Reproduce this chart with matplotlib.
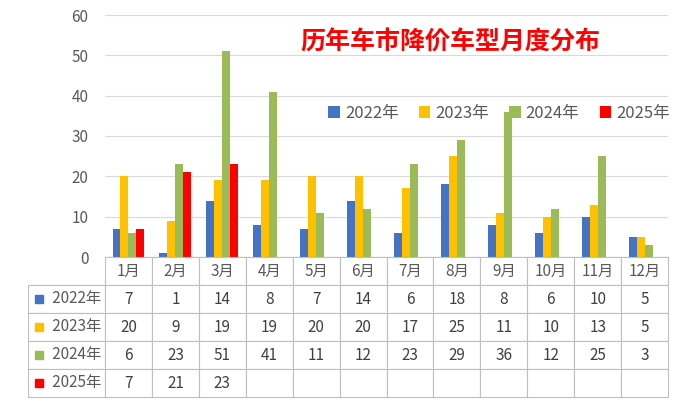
import matplotlib.pyplot as plt
import matplotlib.patches as mpatches
from matplotlib import font_manager
import numpy as np

cjk = [f.name for f in font_manager.fontManager.ttflist if 'CJK' in f.name]
pref = [n for n in ['Noto Sans CJK SC', 'Noto Sans CJK JP', 'Noto Sans CJK TC', 'Noto Sans CJK KR'] if n in cjk]
plt.rcParams['font.family'] = (pref[:1] or cjk[:1]) + ['DejaVu Sans']

# ===== data =====
months = ['1月', '2月', '3月', '4月', '5月', '6月', '7月', '8月', '9月', '10月', '11月', '12月']
series_names = ['2022年', '2023年', '2024年', '2025年']
v2022 = [7, 1, 14, 8, 7, 14, 6, 18, 8, 6, 10, 5]
v2023 = [20, 9, 19, 19, 20, 20, 17, 25, 11, 10, 13, 5]
v2024 = [6, 23, 51, 41, 11, 12, 23, 29, 36, 12, 25, 3]
v2025 = [7, 21, 23]
colors = ['#4472C4', '#FFC000', '#9BBB59', '#FF0000']
# ================

W, H = 685, 409
fig = plt.figure(figsize=(W / 100, H / 100), dpi=100)

ax = fig.add_axes([105 / W, 1 - 257 / H, (668 - 105) / W, (257 - 15) / H])
data = [v2022, v2023, v2024, v2025]
x = np.arange(len(months))
bw = 0.17
for i, (vals, c) in enumerate(zip(data, colors)):
    xs = x[:len(vals)] + (i - 1.5) * bw
    ax.bar(xs, vals, width=bw, color=c, label=series_names[i], zorder=3)

ax.set_xlim(-0.5, len(months) - 0.5)
ax.set_ylim(0, 60)
ax.set_yticks(range(0, 61, 10))
ax.set_xticks([])
ax.grid(axis='y', color='#D9D9D9', linewidth=0.8, zorder=0)
for s in ['top', 'right', 'left']:
    ax.spines[s].set_visible(False)
ax.spines['bottom'].set_color('#BFBFBF')
ax.tick_params(axis='y', length=0, labelsize=11, labelcolor='#595959', pad=12)

ax.legend(loc='upper left', bbox_to_anchor=(0.37, 0.69), ncol=4, frameon=False,
          fontsize=12, handlelength=0.7, handleheight=0.7, columnspacing=1.2,
          handletextpad=0.3, labelcolor='#595959')

fig.text(450 / W, 1 - 42 / H, '历年车市降价车型月度分布', color='#FF0000',
         fontsize=18, fontweight='bold', ha='center', va='center')

# data table
tax = fig.add_axes([28 / W, 1 - 397 / H, (668 - 28) / W, (397 - 257) / H])
tax.axis('off')
cells = [[''] + months]
for name, vals in zip(series_names, data):
    cells.append(['      ' + name] + [str(v) for v in vals] + [''] * (12 - len(vals)))
lw = 77 / (668 - 28)
mw = (1 - lw) / 12
tbl = tax.table(cellText=cells, colWidths=[lw] + [mw] * 12, bbox=[0, 0, 1, 1],
                cellLoc='center')
tbl.auto_set_font_size(False)
for (r, c), cell in tbl.get_celld().items():
    cell.set_edgecolor('#BFBFBF')
    cell.set_linewidth(0.8)
    cell.get_text().set_fontsize(11)
    cell.get_text().set_color('#404040' if r > 0 else '#595959')
    if r == 0 and c == 0:
        cell.visible_edges = 'B'
    if c == 0 and r > 0:
        cell.get_text().set_color('#595959')

# colored markers in row labels
row_h = 28
for i, c in enumerate(colors):
    yc = 1 - (285 + row_h * i + row_h / 2) / H
    fig.patches.append(mpatches.Rectangle((35 / W, yc - 4 / H), 8 / W, 8 / H,
                                          color=c, transform=fig.transFigure))

fig.savefig('out.png', dpi=100)
